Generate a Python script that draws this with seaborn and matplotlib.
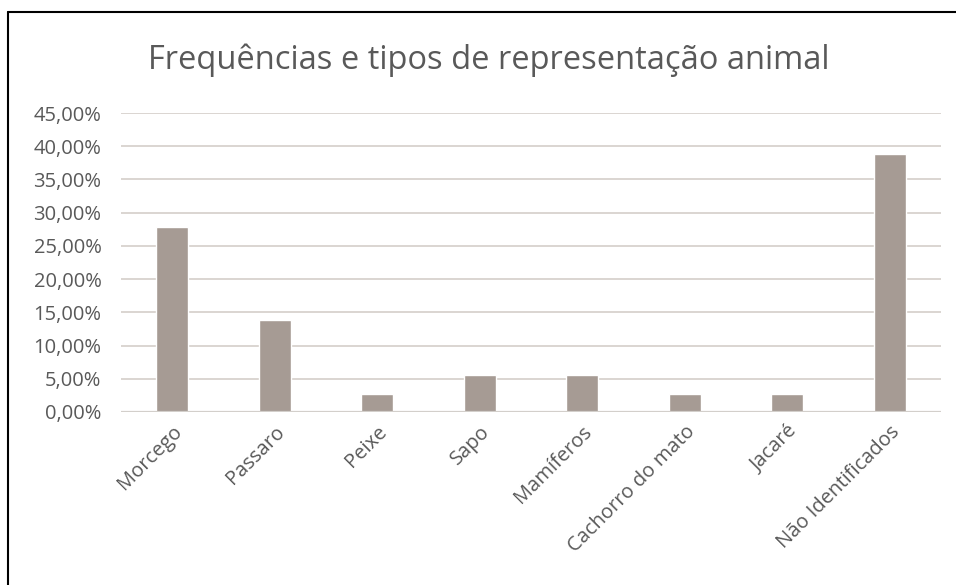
import matplotlib
matplotlib.use('Agg')
import matplotlib.pyplot as plt
import seaborn as sns
import pandas as pd
from matplotlib.ticker import FuncFormatter, MultipleLocator

categorias = ['Morcego', 'Passaro', 'Peixe', 'Sapo', 'Mamíferos',
              'Cachorro do mato', 'Jacaré', 'Não Identificados']
frequencias = [0.2778, 0.1389, 0.0278, 0.0556, 0.0556, 0.0278, 0.0278, 0.3889]
titulo = 'Frequências e tipos de representação animal'

df = pd.DataFrame({'animal': categorias, 'freq': frequencias})

sns.set_style('white')
plt.rcParams['font.family'] = ['Open Sans', 'DejaVu Sans']
texto = '#595959'

fig = plt.figure(figsize=(9.56, 5.85), dpi=100)
ax = fig.add_axes([121 / 956, 1 - 412 / 585, 820 / 956, 299 / 585])

sns.barplot(data=df, x='animal', y='freq', color='#A69B94', width=0.31,
            saturation=1, ax=ax, zorder=3)

ax.set_ylim(0, 0.45)
ax.set_xlim(-0.5, 7.5)
ax.yaxis.set_major_locator(MultipleLocator(0.05))
ax.yaxis.set_major_formatter(FuncFormatter(lambda v, p: f'{v * 100:.2f}%'.replace('.', ',')))
ax.grid(axis='y', color='#DAD5D1', linewidth=1.4, zorder=0)
for s in ax.spines.values():
    s.set_visible(False)
ax.axhline(0, color='#D3CFCB', linewidth=1.6, zorder=4)

ax.tick_params(axis='y', length=0, pad=14, labelsize=14.5, labelcolor=texto)
ax.tick_params(axis='x', length=0, pad=7, labelsize=14.5, labelcolor=texto)
plt.setp(ax.get_xticklabels(), rotation=45, ha='right', rotation_mode='anchor')
ax.set_xlabel('')
ax.set_ylabel('')

fig.text(489 / 956, 1 - 60 / 585, titulo, ha='center', va='center',
         fontsize=23.5, color=texto)

# moldura preta (esquerda e topo)
fig.add_artist(plt.Line2D([8 / 956, 8 / 956], [0, 1 - 12 / 585],
                          transform=fig.transFigure, color='black', linewidth=1.5))
fig.add_artist(plt.Line2D([8 / 956, 1], [1 - 12 / 585, 1 - 12 / 585],
                          transform=fig.transFigure, color='black', linewidth=1.5))

fig.savefig('out.png', dpi=100)
